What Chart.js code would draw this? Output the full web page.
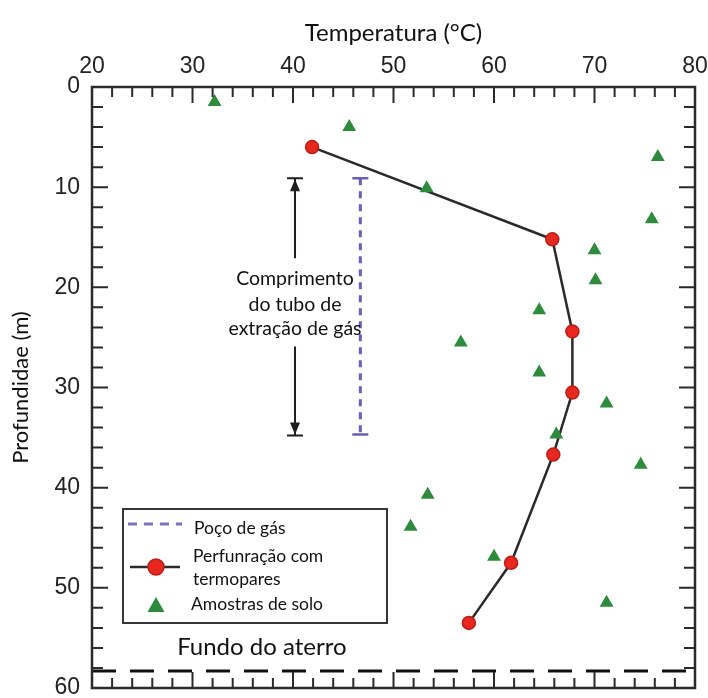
<!DOCTYPE html>
<html><head><meta charset="utf-8">
<script src="https://cdn.jsdelivr.net/npm/chart.js@4.4.1/dist/chart.umd.min.js"></script>
<style>html,body{margin:0;padding:0;background:#fff}#wrap{width:708px;height:698px;position:relative}</style>
</head><body><div id="wrap"><canvas id="c"></canvas></div>
<script>
// ---- data ----
const tempTicks = [20, 30, 40, 50, 60, 70, 80];
const depthTicks = [0, 10, 20, 30, 40, 50, 60];
const thermoTemp = [41.9, 65.8, 67.8, 67.8, 65.9, 61.7, 57.5];
const thermoDepth = [6.0, 15.2, 24.4, 30.5, 36.7, 47.5, 53.5];
const soilTemp = [32.2, 45.6, 76.3, 53.3, 75.7, 70.0, 70.1, 64.5, 56.7, 64.5, 71.2, 66.2, 74.6, 53.4, 51.7, 60.0, 71.2];
const soilDepth = [1.5, 4.0, 7.0, 10.1, 13.2, 16.3, 19.3, 22.3, 25.5, 28.5, 31.6, 34.7, 37.7, 40.7, 43.9, 46.9, 51.5];
const gasWellTemp = [46.7, 46.7];
const gasWellDepth = [9.1, 34.7];
const pipeTemp = [40.2, 40.2];
const pipeDepth = [9.1, 34.8];
const bottomTemp = [20, 80];
const bottomDepth = [58.3, 58.3];
const seriesNames = ['Poço de gás', 'Perfunração com termopares', 'Amostras de solo'];
const xTitle = 'Temperatura (°C)';
const yTitle = 'Profundidae (m)';
const pipeText = ['Comprimento', 'do tubo de', 'extração de gás'];
const bottomText = 'Fundo do aterro';

const toPts = (xs, ys) => xs.map((v, i) => ({x: v, y: ys[i]}));

const C_GAS = '#6a5fb0', C_RED = '#e8271f', C_REDB = '#b3211a', C_GREEN = '#2e8a3c', C_INK = '#2a2a2a';
const ANN_FONT = 'Lato, "Open Sans", sans-serif';
const TICK_FONT = '"Liberation Sans", Arial, sans-serif';

const deco = {
  id: 'deco',
  afterDatasetsDraw(chart) {
    const {ctx, chartArea: a, scales: {x, y}} = chart;
    ctx.save();
    // inward ticks
    ctx.strokeStyle = C_INK; ctx.lineWidth = 2;
    ctx.beginPath();
    for (let v = 20; v <= 80; v += 2) {
      const px = x.getPixelForValue(v), L = v % 10 === 0 ? 16 : 10;
      ctx.moveTo(px, a.top); ctx.lineTo(px, a.top + L);
      ctx.moveTo(px, a.bottom); ctx.lineTo(px, a.bottom - L);
    }
    for (let d = 0; d <= 60; d += 2) {
      const py = y.getPixelForValue(d), L = d % 10 === 0 ? 16 : 11;
      ctx.moveTo(a.left, py); ctx.lineTo(a.left + L, py);
      ctx.moveTo(a.right, py); ctx.lineTo(a.right - L, py);
    }
    ctx.stroke();
    ctx.lineWidth = 2.5;
    ctx.strokeRect(a.left, a.top, a.right - a.left, a.bottom - a.top);

    // gas well caps
    const gx = x.getPixelForValue(gasWellTemp[0]);
    ctx.strokeStyle = C_GAS; ctx.lineWidth = 2.5;
    ctx.beginPath();
    for (const d of gasWellDepth) { const py = y.getPixelForValue(d); ctx.moveTo(gx - 8, py); ctx.lineTo(gx + 8, py); }
    ctx.stroke();

    // pipe length arrow
    const px = x.getPixelForValue(pipeTemp[0]);
    const pT = y.getPixelForValue(pipeDepth[0]), pB = y.getPixelForValue(pipeDepth[1]);
    const gapT = y.getPixelForValue(17.1), gapB = y.getPixelForValue(25.9);
    ctx.strokeStyle = '#1e1e1e'; ctx.fillStyle = '#1e1e1e'; ctx.lineWidth = 2;
    ctx.beginPath();
    ctx.moveTo(px, pT); ctx.lineTo(px, gapT);
    ctx.moveTo(px, gapB); ctx.lineTo(px, pB);
    ctx.moveTo(px - 8, pT); ctx.lineTo(px + 8, pT);
    ctx.moveTo(px - 8, pB); ctx.lineTo(px + 8, pB);
    ctx.stroke();
    ctx.beginPath();
    ctx.moveTo(px, pT + 1); ctx.lineTo(px - 5, pT + 13); ctx.lineTo(px + 5, pT + 13); ctx.closePath();
    ctx.moveTo(px, pB - 1); ctx.lineTo(px - 5, pB - 13); ctx.lineTo(px + 5, pB - 13); ctx.closePath();
    ctx.fill();

    ctx.fillStyle = '#111';
    ctx.font = '19.5px ' + ANN_FONT;
    ctx.textAlign = 'center'; ctx.textBaseline = 'middle';
    const tDepths = [19.1, 21.7, 24.1];
    pipeText.forEach((t, i) => ctx.fillText(t, px, y.getPixelForValue(tDepths[i])));

    ctx.font = '24px ' + ANN_FONT;
    ctx.fillText(bottomText, x.getPixelForValue(36.9), y.getPixelForValue(55.9));

    // legend
    const L = {l: 123, t: 509, r: 387, b: 623};
    ctx.fillStyle = '#fff';
    ctx.fillRect(L.l, L.t, L.r - L.l, L.b - L.t);
    ctx.strokeStyle = '#222'; ctx.lineWidth = 1.8;
    ctx.strokeRect(L.l, L.t, L.r - L.l, L.b - L.t);
    // gas
    ctx.strokeStyle = '#7d70bd'; ctx.lineWidth = 3; ctx.setLineDash([9, 7]);
    ctx.beginPath(); ctx.moveTo(128, 524); ctx.lineTo(182, 524); ctx.stroke();
    ctx.setLineDash([]);
    // thermo
    ctx.strokeStyle = C_INK; ctx.lineWidth = 2.5;
    ctx.beginPath(); ctx.moveTo(130, 567); ctx.lineTo(180, 567); ctx.stroke();
    ctx.fillStyle = C_RED; ctx.strokeStyle = C_REDB; ctx.lineWidth = 1.5;
    ctx.beginPath(); ctx.arc(156, 567, 8, 0, Math.PI * 2); ctx.fill(); ctx.stroke();
    // soil
    ctx.fillStyle = C_GREEN;
    ctx.beginPath(); ctx.moveTo(156, 597); ctx.lineTo(164.5, 612); ctx.lineTo(147.5, 612); ctx.closePath(); ctx.fill();
    ctx.fillStyle = '#111'; ctx.font = '17.5px ' + ANN_FONT;
    ctx.textAlign = 'left'; ctx.textBaseline = 'middle';
    ctx.fillText(seriesNames[0], 194, 528);
    ctx.fillText('Perfunração com', 193, 556);
    ctx.fillText('termopares', 193, 579);
    ctx.fillText(seriesNames[2], 191, 604);
    ctx.restore();
  }
};

new Chart(document.getElementById('c'), {
  type: 'scatter',
  data: {
    datasets: [
      {label: seriesNames[2], data: toPts(soilTemp, soilDepth), pointStyle: 'triangle', pointRadius: 8, pointHoverRadius: 8,
       backgroundColor: C_GREEN, borderColor: C_GREEN, borderWidth: 0, order: 0},
      {label: seriesNames[1], data: toPts(thermoTemp, thermoDepth), showLine: true, borderColor: C_INK, borderWidth: 2.5,
       pointRadius: 6.5, pointHoverRadius: 6.5, pointBackgroundColor: C_RED, pointBorderColor: C_REDB, pointBorderWidth: 1.5, order: 1},
      {label: seriesNames[0], data: toPts(gasWellTemp, gasWellDepth), showLine: true, borderColor: C_GAS, borderWidth: 3,
       borderDash: [7, 6], pointRadius: 0, order: 2},
      {label: 'bottom', data: toPts(bottomTemp, bottomDepth), showLine: true, borderColor: '#111', borderWidth: 3,
       borderDash: [24, 14], pointRadius: 0, order: 3}
    ]
  },
  options: {
    responsive: true, maintainAspectRatio: false, animation: false, devicePixelRatio: 1,
    layout: {padding: {left: 0, right: 13, top: 0, bottom: 10}},
    plugins: {legend: {display: false}, tooltip: {enabled: false}},
    scales: {
      x: {
        type: 'linear', position: 'top', min: 20, max: 80,
        afterBuildTicks: s => { s.ticks = tempTicks.map(v => ({value: v})); },
        afterFit: s => { s.height = 87; s.paddingLeft = 0; s.paddingRight = 0; },
        grid: {display: false, drawTicks: false}, border: {display: false},
        ticks: {padding: 7, maxRotation: 0, autoSkip: false, color: '#222', font: {family: TICK_FONT, size: 23}},
        title: {display: true, text: xTitle, color: '#111', padding: {top: 19, bottom: 0}, font: {family: ANN_FONT, size: 24}}
      },
      y: {
        type: 'linear', position: 'left', min: 0, max: 60, reverse: true,
        afterBuildTicks: s => { s.ticks = depthTicks.map(v => ({value: v})); },
        afterFit: s => { s.width = 92; s.paddingTop = 0; s.paddingBottom = 0; },
        grid: {display: false, drawTicks: false}, border: {display: false},
        ticks: {padding: 12, autoSkip: false, color: '#222', font: {family: TICK_FONT, size: 23}},
        title: {display: true, text: yTitle, color: '#111', padding: {top: 8, bottom: 0}, font: {family: ANN_FONT, size: 22}}
      }
    }
  },
  plugins: [deco]
});
</script>
</body></html>
